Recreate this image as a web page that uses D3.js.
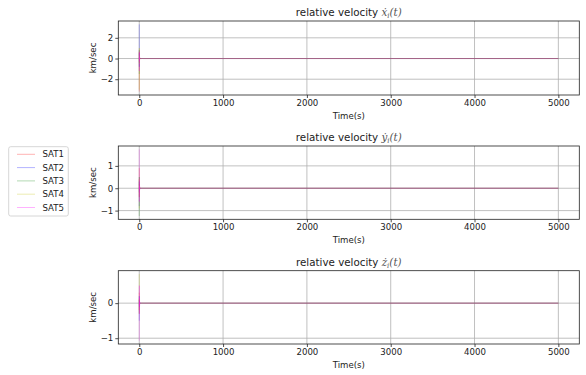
<!DOCTYPE html>
<html>
<head>
<meta charset="utf-8">
<script src="https://cdn.jsdelivr.net/npm/d3@7"></script>
<style>
  body { margin: 0; background: #fff; }
  svg { font-family: 'DejaVu Sans', sans-serif; }
</style>
</head>
<body>
<div id="chart"></div>
<script>
// time samples (s)
const times = [0, 1, 2, 3, 4, 6, 8, 12, 20, 40, 5000]
const satNames = ['SAT1', 'SAT2', 'SAT3', 'SAT4', 'SAT5']
const satColors = ['#ff0000', '#0000ff', '#008000', '#bfbf00', '#ff00ff']

// relative velocity x-dot (km/sec)
const xdotSat1 = [-3.2, 0.6, -0.3, 0.2, -0.1, 0.05, 0, 0, 0, 0, 0]
const xdotSat2 = [3.3, -0.8, 0.5, -0.2, 0.1, 0, 0, 0, 0, 0, 0]
const xdotSat3 = [-1.5, 0.8, -0.4, 0.2, -0.1, 0.05, 0, 0, 0, 0, 0]
const xdotSat4 = [-3.0, 1.0, -0.5, 0.25, -0.1, 0.05, 0, 0, 0, 0, 0]
const xdotSat5 = [0.8, -1.2, 0.6, -0.3, 0.15, -0.05, 0.02, 0, 0, 0, 0]

// relative velocity y-dot (km/sec)
const ydotSat1 = [0.9, -0.4, 0.2, -0.1, 0.05, 0, 0, 0, 0, 0, 0]
const ydotSat2 = [-0.8, 0.3, -0.15, 0.05, 0, 0, 0, 0, 0, 0, 0]
const ydotSat3 = [-1.24, 0.5, -0.2, 0.1, -0.05, 0, 0, 0, 0, 0, 0]
const ydotSat4 = [-0.9, 0.4, -0.2, 0.1, 0, 0, 0, 0, 0, 0, 0]
const ydotSat5 = [1.74, -0.6, 0.4, -0.2, 0.1, -0.05, 0.02, 0, 0, 0, 0]

// relative velocity z-dot (km/sec)
const zdotSat1 = [0.3, -0.2, 0.1, -0.05, 0, 0, 0, 0, 0, 0, 0]
const zdotSat2 = [-0.5, 0.2, -0.1, 0.05, 0, 0, 0, 0, 0, 0, 0]
const zdotSat3 = [-0.3, 0.1, -0.05, 0, 0, 0, 0, 0, 0, 0, 0]
const zdotSat4 = [0.83, -0.3, 0.15, -0.05, 0, 0, 0, 0, 0, 0, 0]
const zdotSat5 = [-1.07, 0.5, -0.3, 0.15, -0.08, 0.03, 0, 0, 0, 0, 0]

const xTicks = [0, 1000, 2000, 3000, 4000, 5000]

const panels = [
  { sym: 'ẋ', series: [xdotSat1, xdotSat2, xdotSat3, xdotSat4, xdotSat5], yTicks: [-2, 0, 2], top: 21, bottom: 95 },
  { sym: 'ẏ', series: [ydotSat1, ydotSat2, ydotSat3, ydotSat4, ydotSat5], yTicks: [-1, 0, 1], top: 146, bottom: 219.3 },
  { sym: 'ż', series: [zdotSat1, zdotSat2, zdotSat3, zdotSat4, zdotSat5], yTicks: [-1, 0], top: 270.7, bottom: 344 },
]

const W = 586, H = 375
const left = 118.3, right = 579.3

const svg = d3.select('#chart').append('svg').attr('width', W).attr('height', H)

const fmt = (d) => (d < 0 ? '\u2212' + Math.abs(d) : String(d))

const x = d3.scaleLinear().domain([-250, 5250]).range([left, right])

panels.forEach((p) => {
  const all = p.series.flat()
  const lo = d3.min(all), hi = d3.max(all), pad = (hi - lo) * 0.05
  const y = d3.scaleLinear().domain([lo - pad, hi + pad]).range([p.bottom, p.top])

  const g = svg.append('g')

  // grid
  g.selectAll('.gx').data(xTicks).enter().append('line')
    .attr('x1', (d) => x(d)).attr('x2', (d) => x(d))
    .attr('y1', p.top).attr('y2', p.bottom)
    .attr('stroke', '#b0b0b0').attr('stroke-width', 0.8)
  g.selectAll('.gy').data(p.yTicks).enter().append('line')
    .attr('x1', left).attr('x2', right)
    .attr('y1', (d) => y(d)).attr('y2', (d) => y(d))
    .attr('stroke', '#b0b0b0').attr('stroke-width', 0.8)

  // lines
  const line = d3.line().x((d, i) => x(times[i])).y((d) => y(d))
  p.series.forEach((s, k) => {
    g.append('path').datum(s).attr('d', line)
      .attr('fill', 'none').attr('stroke', satColors[k])
      .attr('stroke-opacity', 0.3).attr('stroke-width', 0.8)
  })

  // axes
  g.append('g').attr('transform', `translate(0,${p.bottom})`)
    .call(d3.axisBottom(x).tickValues(xTicks).tickFormat(fmt).tickSize(3).tickPadding(2))
    .call((a) => a.select('.domain').remove())
  g.append('g').attr('transform', `translate(${left},0)`)
    .call(d3.axisLeft(y).tickValues(p.yTicks).tickFormat(fmt).tickSize(3).tickPadding(2))
    .call((a) => a.select('.domain').remove())
  g.selectAll('.tick text').attr('font-size', 8.6).attr('fill', '#222').attr('font-family', 'DejaVu Sans')
  g.selectAll('.tick line').attr('stroke', '#222').attr('stroke-width', 0.8)

  g.append('rect').attr('x', left).attr('y', p.top)
    .attr('width', right - left).attr('height', p.bottom - p.top)
    .attr('fill', 'none').attr('stroke', '#222').attr('stroke-width', 0.8)

  // labels
  g.append('text').attr('x', (left + right) / 2).attr('y', p.bottom + 24)
    .attr('text-anchor', 'middle').attr('font-size', 8.6).attr('fill', '#222').text('Time(s)')
  const cy = (p.top + p.bottom) / 2
  g.append('text').attr('transform', `translate(${left - 22},${cy}) rotate(-90)`)
    .attr('text-anchor', 'middle').attr('font-size', 8.6).attr('fill', '#222').text('km/sec')

  const t = g.append('text').attr('x', (left + right) / 2).attr('y', p.top - 5)
    .attr('text-anchor', 'middle').attr('font-size', 10.3).attr('fill', '#222')
  t.append('tspan').text('relative velocity ')
  t.append('tspan').attr('font-family', 'DejaVu Serif').attr('font-style', 'italic').attr('fill', '#555').text(p.sym)
  t.append('tspan').attr('font-family', 'DejaVu Serif').attr('font-style', 'italic').attr('fill', '#555')
    .attr('font-size', 7).attr('dy', 2).text('i')
  t.append('tspan').attr('font-family', 'DejaVu Serif').attr('font-style', 'italic').attr('fill', '#555')
    .attr('dy', -2).text('(t)')
})

// legend
const lg = svg.append('g')
lg.append('rect').attr('x', 8.7).attr('y', 146.7).attr('width', 59.6).attr('height', 69.3)
  .attr('rx', 2).attr('fill', '#fff').attr('stroke', '#ccc').attr('stroke-width', 0.8)
satNames.forEach((n, k) => {
  const yy = 154.3 + k * 13.3
  lg.append('line').attr('x1', 17).attr('x2', 35).attr('y1', yy).attr('y2', yy)
    .attr('stroke', satColors[k]).attr('stroke-opacity', 0.3).attr('stroke-width', 1)
  lg.append('text').attr('x', 42.5).attr('y', yy + 3).attr('font-size', 8.6).attr('fill', '#222').text(n)
})
</script>
</body>
</html>
